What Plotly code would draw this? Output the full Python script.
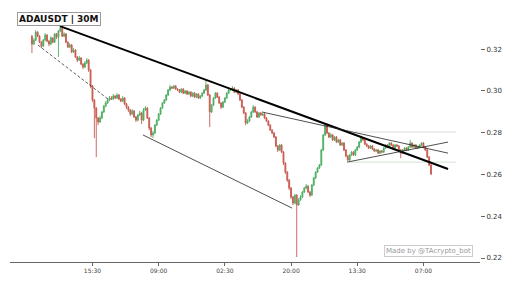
import plotly.graph_objects as go

# ---- data (ADAUSDT 30m candles) ----
first_open = 0.3262
close = [
    0.3224, 0.3243, 0.3281, 0.3262, 0.3233, 0.3214, 0.3243, 0.3267, 0.3238, 0.3224,
    0.3253, 0.3233, 0.3272, 0.3257, 0.3286, 0.3300, 0.3262, 0.3272, 0.3233, 0.3210,
    0.3219, 0.3186, 0.3195, 0.3162, 0.3147, 0.3157, 0.3128, 0.3114, 0.3133, 0.3147,
    0.3100, 0.3023, 0.2956, 0.2918, 0.2870, 0.2851, 0.2870, 0.2899, 0.2927, 0.2942,
    0.2956, 0.2966, 0.2961, 0.2975, 0.2966, 0.2980, 0.2961, 0.2951, 0.2966, 0.2937,
    0.2922, 0.2908, 0.2889, 0.2904, 0.2875, 0.2860, 0.2884, 0.2894, 0.2860, 0.2908,
    0.2918, 0.2870, 0.2822, 0.2789, 0.2798, 0.2836, 0.2860, 0.2889, 0.2918, 0.2942,
    0.2956, 0.2980, 0.3004, 0.3018, 0.3013, 0.3023, 0.3009, 0.3004, 0.2994, 0.3009,
    0.2989, 0.2999, 0.2985, 0.2994, 0.2975, 0.2989, 0.2970, 0.2985, 0.2966, 0.2975,
    0.2989, 0.3004, 0.3028, 0.2980, 0.2899, 0.2932, 0.2966, 0.2989, 0.2970, 0.2942,
    0.2922, 0.2946, 0.2966, 0.2989, 0.3004, 0.3004, 0.3013, 0.2994, 0.3004, 0.2985,
    0.2956, 0.2922, 0.2894, 0.2846, 0.2855, 0.2875, 0.2899, 0.2922, 0.2899, 0.2875,
    0.2894, 0.2884, 0.2889, 0.2870, 0.2855, 0.2836, 0.2812, 0.2798, 0.2779, 0.2736,
    0.2717, 0.2741, 0.2707, 0.2654, 0.2611, 0.2573, 0.2535, 0.2492, 0.2463, 0.2501,
    0.2454, 0.2477, 0.2492, 0.2516, 0.2535, 0.2544, 0.2516, 0.2501, 0.2549, 0.2583,
    0.2611, 0.2631, 0.2645, 0.2717, 0.2789, 0.2836, 0.2798, 0.2779, 0.2789, 0.2765,
    0.2779, 0.2755, 0.2765, 0.2741, 0.2750, 0.2717, 0.2688, 0.2669, 0.2693, 0.2707,
    0.2693, 0.2717, 0.2731, 0.2755, 0.2774, 0.2765, 0.2745, 0.2736, 0.2726, 0.2736,
    0.2722, 0.2712, 0.2717, 0.2702, 0.2712, 0.2707, 0.2726, 0.2741, 0.2731, 0.2750,
    0.2741, 0.2726, 0.2741, 0.2736, 0.2717, 0.2702, 0.2717, 0.2726, 0.2717, 0.2731,
    0.2750, 0.2731, 0.2741, 0.2726, 0.2731, 0.2741, 0.2750, 0.2731, 0.2717, 0.2683,
    0.2645, 0.2602,
]
high = [
    0.3267, 0.3252, 0.3291, 0.3286, 0.3267, 0.3238, 0.3248, 0.3277, 0.3272, 0.3243,
    0.3262, 0.3257, 0.3277, 0.3277, 0.3291, 0.3310, 0.3305, 0.3281, 0.3277, 0.3238,
    0.3229, 0.3224, 0.3205, 0.3200, 0.3167, 0.3167, 0.3162, 0.3133, 0.3143, 0.3157,
    0.3152, 0.3104, 0.3028, 0.2961, 0.2922, 0.2875, 0.2880, 0.2904, 0.2932, 0.2951,
    0.2966, 0.2975, 0.2975, 0.2985, 0.2980, 0.2989, 0.2985, 0.2966, 0.2975, 0.2970,
    0.2942, 0.2927, 0.2913, 0.2913, 0.2908, 0.2880, 0.2889, 0.2904, 0.2899, 0.2918,
    0.2927, 0.2922, 0.2875, 0.2827, 0.2808, 0.2841, 0.2865, 0.2894, 0.2922, 0.2946,
    0.2961, 0.2985, 0.3009, 0.3028, 0.3023, 0.3028, 0.3028, 0.3013, 0.3009, 0.3013,
    0.3013, 0.3004, 0.3004, 0.2999, 0.2999, 0.2994, 0.2994, 0.2989, 0.2989, 0.2980,
    0.2994, 0.3009, 0.3052, 0.3033, 0.2985, 0.2937, 0.2970, 0.2994, 0.2994, 0.2975,
    0.2946, 0.2951, 0.2970, 0.2994, 0.3009, 0.3013, 0.3023, 0.3018, 0.3009, 0.3009,
    0.2989, 0.2961, 0.2927, 0.2899, 0.2865, 0.2880, 0.2904, 0.2932, 0.2927, 0.2904,
    0.2899, 0.2899, 0.2894, 0.2894, 0.2875, 0.2860, 0.2841, 0.2817, 0.2803, 0.2784,
    0.2741, 0.2745, 0.2745, 0.2712, 0.2659, 0.2616, 0.2578, 0.2540, 0.2497, 0.2506,
    0.2506, 0.2487, 0.2501, 0.2521, 0.2540, 0.2554, 0.2549, 0.2521, 0.2554, 0.2588,
    0.2616, 0.2635, 0.2650, 0.2722, 0.2793, 0.2846, 0.2841, 0.2803, 0.2798, 0.2793,
    0.2784, 0.2784, 0.2770, 0.2770, 0.2755, 0.2755, 0.2722, 0.2693, 0.2698, 0.2712,
    0.2712, 0.2722, 0.2736, 0.2760, 0.2779, 0.2779, 0.2770, 0.2750, 0.2741, 0.2741,
    0.2741, 0.2726, 0.2722, 0.2722, 0.2717, 0.2717, 0.2731, 0.2745, 0.2745, 0.2755,
    0.2755, 0.2745, 0.2745, 0.2745, 0.2741, 0.2722, 0.2722, 0.2731, 0.2731, 0.2736,
    0.2765, 0.2755, 0.2745, 0.2745, 0.2736, 0.2745, 0.2755, 0.2755, 0.2736, 0.2722,
    0.2688, 0.2650,
]
low = [
    0.3181, 0.3219, 0.3238, 0.3257, 0.3228, 0.3205, 0.3210, 0.3238, 0.3233, 0.3214,
    0.3219, 0.3228, 0.3229, 0.3248, 0.3162, 0.3281, 0.3257, 0.3257, 0.3228, 0.3205,
    0.3205, 0.3181, 0.3181, 0.3157, 0.3138, 0.3143, 0.3123, 0.3104, 0.3109, 0.3128,
    0.3090, 0.3013, 0.2946, 0.2774, 0.2683, 0.2836, 0.2846, 0.2865, 0.2894, 0.2922,
    0.2937, 0.2951, 0.2956, 0.2956, 0.2961, 0.2961, 0.2956, 0.2946, 0.2946, 0.2932,
    0.2913, 0.2899, 0.2880, 0.2884, 0.2870, 0.2851, 0.2855, 0.2880, 0.2841, 0.2855,
    0.2904, 0.2865, 0.2812, 0.2779, 0.2774, 0.2793, 0.2831, 0.2855, 0.2884, 0.2913,
    0.2937, 0.2951, 0.2975, 0.2999, 0.3009, 0.3009, 0.3004, 0.2999, 0.2989, 0.2989,
    0.2985, 0.2985, 0.2980, 0.2980, 0.2970, 0.2970, 0.2966, 0.2966, 0.2961, 0.2961,
    0.2970, 0.2985, 0.2999, 0.2975, 0.2827, 0.2894, 0.2927, 0.2961, 0.2966, 0.2937,
    0.2913, 0.2918, 0.2942, 0.2961, 0.2985, 0.2999, 0.2999, 0.2989, 0.2989, 0.2980,
    0.2951, 0.2918, 0.2889, 0.2836, 0.2841, 0.2851, 0.2870, 0.2894, 0.2894, 0.2870,
    0.2870, 0.2880, 0.2880, 0.2865, 0.2851, 0.2831, 0.2808, 0.2793, 0.2774, 0.2731,
    0.2707, 0.2712, 0.2702, 0.2645, 0.2602, 0.2564, 0.2525, 0.2482, 0.2454, 0.2458,
    0.2205, 0.2449, 0.2473, 0.2487, 0.2511, 0.2530, 0.2511, 0.2492, 0.2497, 0.2544,
    0.2578, 0.2607, 0.2626, 0.2640, 0.2712, 0.2784, 0.2793, 0.2774, 0.2774, 0.2760,
    0.2760, 0.2750, 0.2750, 0.2736, 0.2736, 0.2712, 0.2683, 0.2664, 0.2664, 0.2688,
    0.2688, 0.2688, 0.2712, 0.2726, 0.2750, 0.2760, 0.2741, 0.2731, 0.2722, 0.2722,
    0.2717, 0.2707, 0.2707, 0.2698, 0.2698, 0.2702, 0.2702, 0.2722, 0.2726, 0.2726,
    0.2736, 0.2722, 0.2722, 0.2731, 0.2712, 0.2678, 0.2698, 0.2712, 0.2712, 0.2712,
    0.2726, 0.2726, 0.2726, 0.2722, 0.2722, 0.2726, 0.2736, 0.2726, 0.2712, 0.2678,
    0.2640, 0.2597,
]
open_ = [first_open] + close[:-1]
idx = list(range(len(close)))

tick_idx = [32, 67, 102, 137, 172, 207]
tick_text = ["15:30", "09:00", "02:30", "20:00", "13:30", "07:00"]
y_ticks = [0.22, 0.24, 0.26, 0.28, 0.30, 0.32]

# trend lines: (x0, y0, x1, y1) in candle index / price
bold_line = (14.8, 0.3310, 220.0, 0.2626)
dashed_line = (3.2, 0.3219, 40.2, 0.2961)
channel_line = (58.7, 0.2789, 137.5, 0.2439)
upper_tri_line = (121.6, 0.2899, 220.0, 0.2702)
lower_tri_line = (166.6, 0.2659, 220.0, 0.2755)
level_lines = [(170.8, 224.2, 0.2803, "#dcdcdc"), (168.0, 224.2, 0.2659, "#d4e2d4")]

FONT = "DejaVu Sans"

fig = go.Figure()
fig.add_trace(go.Candlestick(
    x=idx, open=open_, high=high, low=low, close=close,
    increasing=dict(line=dict(color="#4caf63", width=0.9), fillcolor="#4caf63"),
    decreasing=dict(line=dict(color="#c85a50", width=0.9), fillcolor="#c85a50"),
    whiskerwidth=0, showlegend=False, hoverinfo="skip",
))

shapes = []
def seg(l, color, width, dash="solid"):
    shapes.append(dict(type="line", xref="x", yref="y", x0=l[0], y0=l[1], x1=l[2], y1=l[3],
                       line=dict(color=color, width=width, dash=dash), layer="above"))

for x0, x1, yv, col in level_lines:
    shapes.append(dict(type="line", xref="x", yref="y", x0=x0, y0=yv, x1=x1, y1=yv,
                       line=dict(color=col, width=1), layer="below"))
seg(bold_line, "#000000", 2)
seg(dashed_line, "#333333", 0.8, "3px,2px")
seg(channel_line, "#222222", 0.8)
seg(upper_tri_line, "#222222", 0.8)
seg(lower_tri_line, "#222222", 0.8)

fig.update_layout(
    width=512, height=282,
    margin=dict(l=10, r=32, t=5, b=20),
    paper_bgcolor="white", plot_bgcolor="white",
    font=dict(family=FONT, size=7, color="#333333"),
    shapes=shapes,
    xaxis=dict(range=[-11.6, 236.9], rangeslider=dict(visible=False), showgrid=False,
               zeroline=False, showline=True, linecolor="#666666", linewidth=1,
               tickmode="array", tickvals=tick_idx, ticktext=tick_text,
               ticks="outside", ticklen=3, tickcolor="#666666",
               tickfont=dict(size=6, color="#444444", family=FONT)),
    yaxis=dict(range=[0.2181, 0.3411], side="right", showgrid=False, zeroline=False,
               showline=False, tickmode="array", tickvals=y_ticks,
               ticktext=[f"{v:.2f}" for v in y_ticks],
               ticks="outside", ticklen=4, tickcolor="#666666",
               tickfont=dict(size=7, color="#333333", family=FONT)),
    annotations=[
        dict(xref="paper", yref="paper", x=0.0149, y=0.9436, xanchor="left", yanchor="middle",
             text="<b>ADAUSDT | 30M</b>", showarrow=False,
             font=dict(size=9, color="#111111", family=FONT),
             bgcolor="white", bordercolor="#999999", borderwidth=1, borderpad=1),
        dict(xref="paper", yref="paper", x=0.985, y=0.0428, xanchor="right", yanchor="middle",
             text="Made by @TAcrypto_bot", showarrow=False,
             font=dict(size=7, color="#999999", family=FONT),
             bgcolor="white", bordercolor="#cccccc", borderwidth=1, borderpad=1),
    ],
)

fig.write_html("out.html")
